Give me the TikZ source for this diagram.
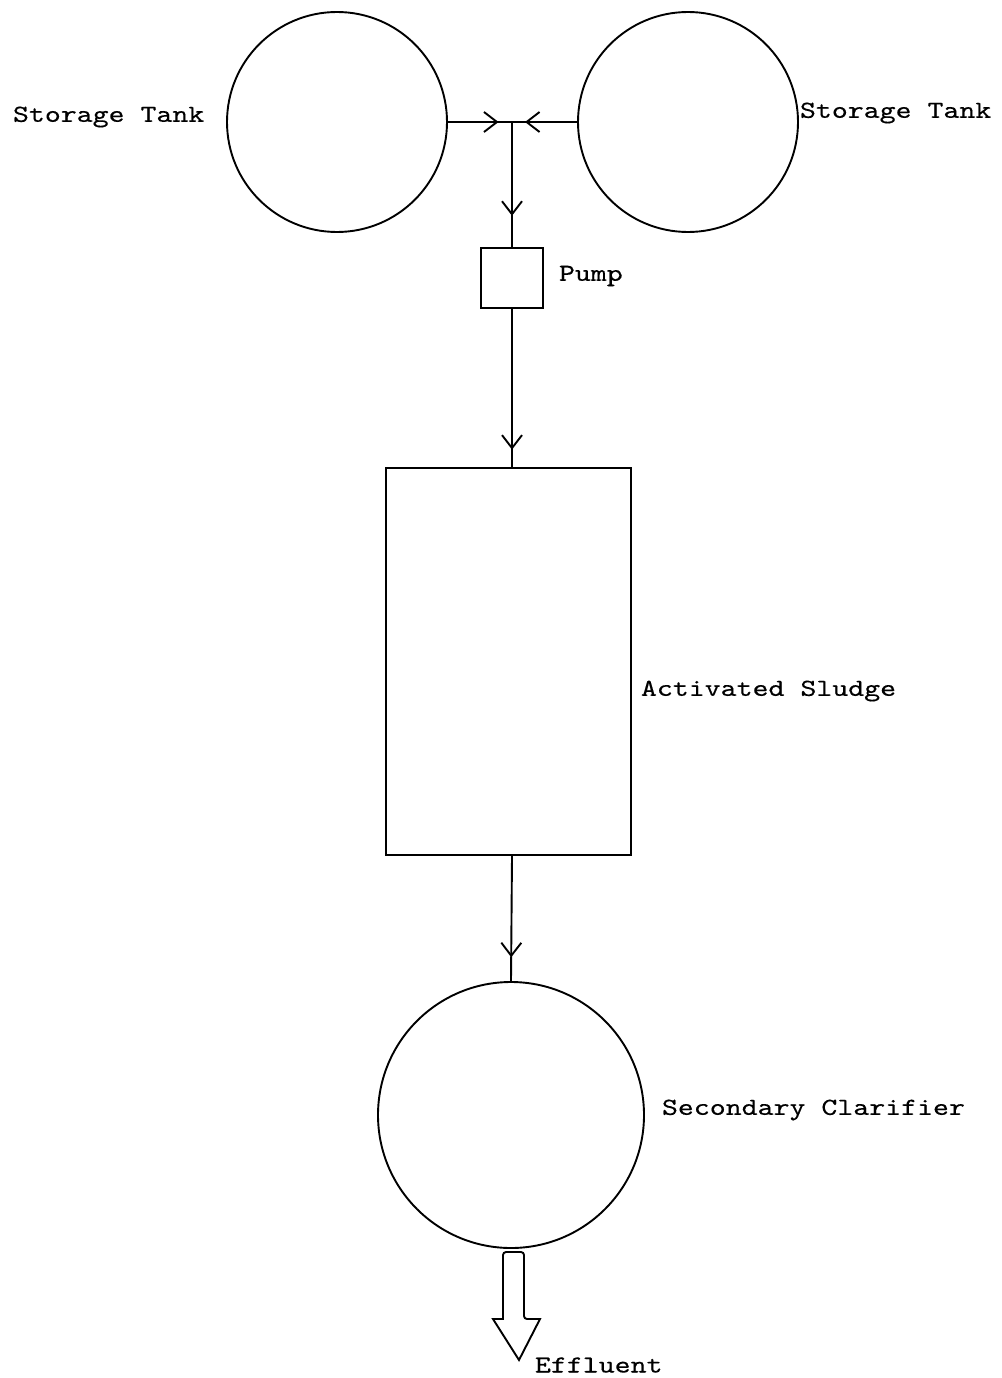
\documentclass[tikz,border=0pt]{standalone}
\usepackage{fontspec}
\usetikzlibrary{arrows.meta,decorations.markings}
\newfontfamily\typefamily{lmmono10-regular}[Extension=.otf,FakeStretch=1.24,FakeBold=0.4]
\newcommand{\typewriter}{\typefamily\fontsize{24.5}{28}\selectfont}
\begin{document}
\begin{tikzpicture}[x=1pt,y=-1pt,line width=1.9pt,
  tank/.style={circle,draw,inner sep=0pt,minimum size=#1},
  box/.style={rectangle,draw,inner sep=0pt},
  lbl/.style={anchor=west,inner sep=0pt,font=\typewriter},
  midarrow/.style={postaction={decorate},decoration={markings,
    mark=at position #1 with {\arrow{Straight Barb[length=13pt,width=20pt,line width=1.9pt]}}}}]
\useasboundingbox (0,0) rectangle (1001,1378);

% vessels and units
\node[tank=220pt] (tl) at (337,122) {};
\node[tank=220pt] (tr) at (688,122) {};
\node[box,minimum width=62pt,minimum height=60pt] (pump) at (512,278) {};
\node[box,minimum width=245pt,minimum height=387pt] (as) at (508.5,661.5) {};
\node[tank=266pt] (sc) at (511,1115) {};
\coordinate (j) at (512,122);

% labels
\node[lbl] (ltl) at (12,117) {Storage Tank};
\node[lbl] (ltr) at (799,113) {Storage Tank};
\node[lbl] (lp) at (558,276) {Pump};
\node[lbl] (las) at (640,691) {Activated Sludge};
\node[lbl] (lsc) at (661,1110) {Secondary Clarifier};

% flow lines
\draw[midarrow=0.79] (tl.east) -- (j);
\draw[midarrow=0.80] (tr.west) -- (j);
\draw[midarrow=0.75] (j) -- (pump.north);
\draw[midarrow=0.89] (pump.south) -- (as.north -| pump.south);
\draw[midarrow=0.81] (as.south -| pump.south) -- (sc.north);

% effluent outlet
\draw[rounded corners=3pt]
  (503,1319) -- (503,1252) -- (524,1252) -- (524,1319) [sharp corners] -- (540,1319)
  -- (519,1360) -- (493,1319) -- cycle;
\node[lbl] (lef) at (534,1365) {Effluent};
\end{tikzpicture}
\end{document}
